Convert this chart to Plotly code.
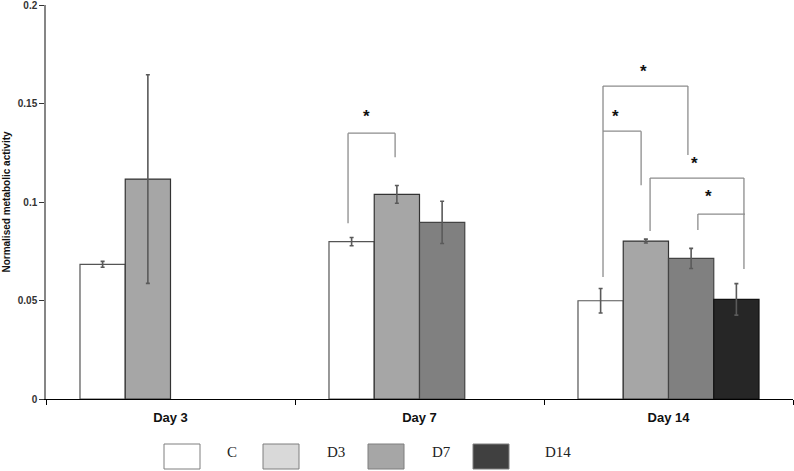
import plotly.graph_objects as go

categories = ["Day 3", "Day 7", "Day 14"]
series_names = ["C", "D3", "D7", "D14"]
slot1 = [0.0684, 0.0799, 0.0499]
slot2 = [0.1117, 0.1039, 0.0802]
slot3 = [None, 0.0897, 0.0714]
slot4 = [None, None, 0.0506]
err1 = [0.0015, 0.0021, 0.0062]
err2 = [0.053, 0.0045, 0.001]
err3 = [0, 0.0107, 0.0051]
err4 = [0, 0, 0.008]
y_ticks = [0, 0.05, 0.1, 0.15, 0.2]
y_ticklabels = ["0", "0.05", "0.1", "0.15", "0.2"]
legend_labels = ["C", "D3", "D7", "D14"]

bar_colors = ["#FFFFFF", "#A6A6A6", "#808080", "#262626"]
line_colors = ["#555555", "#333333", "#444444", "#111111"]
legend_colors = ["#FFFFFF", "#D9D9D9", "#A6A6A6", "#404040"]

W, H = 794, 471
L, R, T, B = 46, 1, 5, 72
pw, ph = W - L - R, H - T - B

def px(x):
    return (x - L) / pw

def py(y):
    return (H - B - y) / ph

fig = go.Figure()
for vals, errs, col, lc, nm in zip([slot1, slot2, slot3, slot4], [err1, err2, err3, err4],
                                   bar_colors, line_colors, series_names):
    fig.add_trace(go.Bar(
        x=categories, y=vals, name=nm, showlegend=False,
        marker=dict(color=col, line=dict(color=lc, width=1.2)),
        error_y=dict(type="data", array=errs, visible=True, color="#5a5a5a",
                     thickness=1.6, width=2),
    ))

# significance brackets: (x_left, x_right, y_top, y_left_bottom, y_right_bottom, star_x, star_y) in data units
brackets = [
    (0.713, 0.902, 0.1350, 0.0893, 0.1228, 0.789, 0.1435),
    (1.737, 2.078, 0.1589, 0.0619, 0.1239, 1.898, 0.1665),
    (1.737, 1.890, 0.1360, None, 0.1086, 1.789, 0.1435),
    (1.926, 2.303, 0.1122, 0.0853, 0.0660, 2.106, 0.1195),
    (2.118, 2.307, 0.0939, 0.0858, None, 2.159, 0.1030),
]
shapes = []
annotations = []
gc = "#8c8c8c"
for xl, xr, yt, ylb, yrb, sx, sy in brackets:
    shapes.append(dict(type="line", xref="x", yref="y", x0=xl, x1=xr, y0=yt, y1=yt,
                       line=dict(color=gc, width=1.3)))
    if ylb is not None:
        shapes.append(dict(type="line", xref="x", yref="y", x0=xl, x1=xl, y0=yt, y1=ylb,
                           line=dict(color=gc, width=1.3)))
    if yrb is not None:
        shapes.append(dict(type="line", xref="x", yref="y", x0=xr, x1=xr, y0=yt, y1=yrb,
                           line=dict(color=gc, width=1.3)))
    annotations.append(dict(x=sx, y=sy, xref="x", yref="y", text="<b>*</b>", showarrow=False,
                            font=dict(size=17, color="#111111", family="Liberation Sans")))

# custom legend
box_x = [164, 263, 368, 473]
text_x = [225, 325, 430, 543]
for bx, tx, col, lab in zip(box_x, text_x, legend_colors, legend_labels):
    shapes.append(dict(type="rect", xref="paper", yref="paper",
                       x0=px(bx), x1=px(bx + 36), y0=py(444), y1=py(469),
                       fillcolor=col, line=dict(color="#7f7f7f", width=1)))
    annotations.append(dict(x=px(tx), y=py(452), xref="paper", yref="paper", text=lab,
                            showarrow=False, xanchor="left", yanchor="middle",
                            font=dict(size=15, color="#222222", family="Liberation Serif")))

fig.update_layout(
    width=W, height=H,
    margin=dict(l=L, r=R, t=T, b=B),
    paper_bgcolor="white", plot_bgcolor="white",
    barmode="group", bargap=0.273, bargroupgap=0,
    shapes=shapes, annotations=annotations,
    showlegend=False,
    xaxis=dict(range=[-0.5, 2.5], showline=True, linecolor="#000000", linewidth=1.2,
               ticks="outside", ticklen=5, tickcolor="#000000", tickson="boundaries",
               showgrid=False, zeroline=False,
               tickfont=dict(size=13, color="#111111", family="Liberation Sans", weight="bold"),
               ticklabelstandoff=6),
    yaxis=dict(range=[0, 0.2001], tickvals=y_ticks, ticktext=y_ticklabels,
               showline=True, linecolor="#868686", linewidth=1.5,
               ticks="outside", ticklen=5, tickcolor="#333333",
               showgrid=False, zeroline=False, automargin=False,
               ticklabeloverflow="allow",
               tickfont=dict(size=10, color="#333333", family="Liberation Sans", weight="bold"),
               title=dict(text="Normalised metabolic activity", standoff=5,
                          font=dict(size=10, color="#111111", family="Liberation Sans", weight="bold"))),
)

fig.write_html("out.html", config={"displayModeBar": False},
               post_script="document.body.style.margin='0';document.body.style.padding='0';")
